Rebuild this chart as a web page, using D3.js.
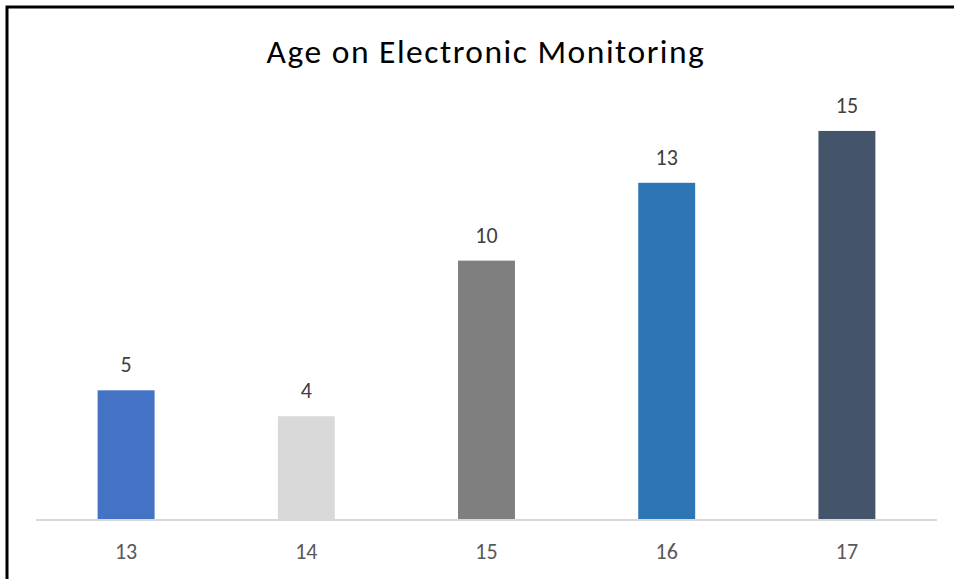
<!DOCTYPE html>
<html>
<head>
<meta charset="utf-8">
<script src="https://cdn.jsdelivr.net/npm/d3@7"></script>
<style>
  html, body { margin: 0; padding: 0; background: #fff; }
  svg { display: block; }
</style>
</head>
<body>
<svg id="chart" width="954" height="579"></svg>
<script>
// Ages and counts of young people on electronic monitoring
const ages = ["13", "14", "15", "16", "17"];
const counts = [5, 4, 10, 13, 15];
const barColors = ["#4472C4", "#D9D9D9", "#7F7F7F", "#2E75B6", "#44546A"];
const chartTitle = "Age on Electronic Monitoring";

const svg = d3.select("#chart");
const W = 954, H = 579;
const fontFamily = "Carlito, Calibri, Lato, 'Open Sans', sans-serif";

// Outer frame (only top and left edges fall inside the view)
svg.append("rect")
  .attr("x", 7).attr("y", 7)
  .attr("width", W + 10).attr("height", H + 10)
  .attr("fill", "#fff")
  .attr("stroke", "#000")
  .attr("stroke-width", 3);

const plot = { left: 36, right: 937, top: 105, bottom: 520 };

const x = d3.scaleBand()
  .domain(ages)
  .range([plot.left, plot.right])
  .paddingInner(0.684)
  .paddingOuter(0.342);

const y = d3.scaleLinear()
  .domain([0, 16])
  .range([plot.bottom, plot.top]);

// Title
svg.append("text")
  .attr("x", 486)
  .attr("y", 63)
  .attr("text-anchor", "middle")
  .attr("font-family", fontFamily)
  .attr("font-size", 33.5)
  .attr("letter-spacing", 1.5)
  .attr("fill", "#000")
  .text(chartTitle);

// Bars
svg.append("g").selectAll("rect")
  .data(ages)
  .join("rect")
  .attr("x", d => x(d))
  .attr("width", x.bandwidth())
  .attr("y", (d, i) => y(counts[i]))
  .attr("height", (d, i) => y(0) - y(counts[i]))
  .attr("fill", (d, i) => barColors[i]);

// Category axis
const xAxis = svg.append("g")
  .attr("transform", `translate(0,${plot.bottom})`)
  .call(d3.axisBottom(x).tickSize(0).tickPadding(23));
xAxis.select(".domain")
  .attr("stroke", "#D9D9D9")
  .attr("stroke-width", 2)
  .attr("d", `M${plot.left},0H${plot.right}`);
xAxis.selectAll("text")
  .attr("font-family", fontFamily)
  .attr("font-size", 22)
  .attr("fill", "#595959");

// Value labels above bars
svg.append("g").selectAll("text")
  .data(ages)
  .join("text")
  .attr("x", d => x(d) + x.bandwidth() / 2)
  .attr("y", (d, i) => y(counts[i]) - 18)
  .attr("text-anchor", "middle")
  .attr("font-family", fontFamily)
  .attr("font-size", 22)
  .attr("fill", "#404040")
  .text((d, i) => counts[i]);
</script>
</body>
</html>
